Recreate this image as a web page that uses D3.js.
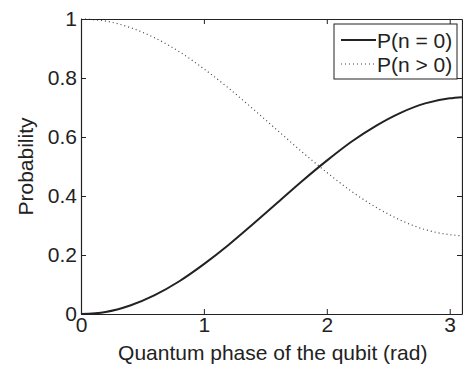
<!DOCTYPE html>
<html>
<head>
<meta charset="utf-8">
<script src="https://cdn.jsdelivr.net/npm/d3@7"></script>
<style>
  body { margin: 0; background: #fff; }
  svg { display: block; font-family: "Liberation Sans", Arial, sans-serif; }
</style>
</head>
<body>
<svg id="chart" width="463" height="365"></svg>
<script>
// values
const phase = [0, 0.2, 0.4, 0.6, 0.8, 1.0, 1.2, 1.4, 1.6, 1.8, 2.0, 2.2, 2.4, 2.6, 2.8, 3.0, 3.1];
const pZero = [0, 0.007, 0.029, 0.064, 0.111, 0.169, 0.234, 0.305, 0.378, 0.451, 0.52, 0.584, 0.638, 0.682, 0.714, 0.731, 0.735];
const pMore = [1, 0.993, 0.971, 0.936, 0.889, 0.831, 0.766, 0.695, 0.622, 0.549, 0.48, 0.416, 0.362, 0.318, 0.286, 0.269, 0.265];
const xTicks = [0, 1, 2, 3];
const yTicks = [0, 0.2, 0.4, 0.6, 0.8, 1];
const seriesNames = ['P(n = 0)', 'P(n > 0)'];

const margin = { top: 19, right: 1, bottom: 51, left: 81 };
const svg = d3.select('#chart');
const width = +svg.attr('width');
const height = +svg.attr('height');
const innerW = width - margin.left - margin.right;
const innerH = height - margin.top - margin.bottom;
const ink = '#222';
const fontSize = '21px';

const x = d3.scaleLinear().domain([0, 3.1]).range([margin.left, margin.left + innerW]);
const y = d3.scaleLinear().domain([0, 1]).range([margin.top + innerH, margin.top]);

const g = svg.append('g');

// curves
const line = (vals) => d3.line()
  .x((d, i) => x(phase[i]))
  .y((d) => y(d))
  .curve(d3.curveMonotoneX)(vals);

g.append('path')
  .attr('d', line(pMore))
  .attr('fill', 'none')
  .attr('stroke', '#444')
  .attr('stroke-width', 1.2)
  .attr('stroke-dasharray', '1,3');

g.append('path')
  .attr('d', line(pZero))
  .attr('fill', 'none')
  .attr('stroke', ink)
  .attr('stroke-width', 2);

// axes, ticks inward on all sides
const tickLen = 5;
const axBottom = g.append('g').attr('transform', `translate(0,${y(0)})`)
  .call(d3.axisBottom(x).tickValues(xTicks).tickFormat(d3.format('d')).tickSizeInner(-tickLen).tickSizeOuter(0).tickPadding(3));
const axTop = g.append('g').attr('transform', `translate(0,${y(1)})`)
  .call(d3.axisTop(x).tickValues(xTicks).tickFormat('').tickSizeInner(-tickLen).tickSizeOuter(0));
const axLeft = g.append('g').attr('transform', `translate(${x(0)},0)`)
  .call(d3.axisLeft(y).tickValues(yTicks).tickFormat((d) => (d === 0 || d === 1 ? d3.format('d')(d) : d3.format('.1f')(d))).tickSizeInner(-tickLen).tickSizeOuter(0).tickPadding(4));
const axRight = g.append('g').attr('transform', `translate(${x(3.1)},0)`)
  .call(d3.axisRight(y).tickValues(yTicks).tickFormat('').tickSizeInner(-tickLen).tickSizeOuter(0));

[axBottom, axTop, axLeft, axRight].forEach((a) => {
  a.select('.domain').attr('stroke', ink).attr('stroke-width', 1.2);
  a.selectAll('.tick line').attr('stroke', ink);
  a.selectAll('text').attr('fill', ink).style('font-size', fontSize).style('font-family', '"Liberation Sans", Arial, sans-serif');
});
axBottom.selectAll('text').attr('dy', '0.71em');

// axis labels
svg.append('text')
  .attr('x', x(1.56))
  .attr('y', 360)
  .attr('text-anchor', 'middle')
  .attr('fill', ink)
  .style('font-size', fontSize)
  .text('Quantum phase of the qubit (rad)');

svg.append('text')
  .attr('transform', `translate(33,${y(0.5)}) rotate(-90)`)
  .attr('text-anchor', 'middle')
  .attr('fill', ink)
  .style('font-size', fontSize)
  .text('Probability');

// legend
const legend = svg.append('g').attr('transform', 'translate(334,24)');
legend.append('rect')
  .attr('width', 123).attr('height', 55)
  .attr('fill', '#fff').attr('stroke', ink).attr('stroke-width', 1);
seriesNames.forEach((name, i) => {
  const row = legend.append('g').attr('transform', `translate(0,${16 + i * 24})`);
  row.append('line')
    .attr('x1', 7).attr('x2', 42).attr('y1', 0).attr('y2', 0)
    .attr('stroke', i === 0 ? ink : '#444')
    .attr('stroke-width', i === 0 ? 2 : 1.2)
    .attr('stroke-dasharray', i === 0 ? null : '1,3');
  row.append('text')
    .attr('x', 43).attr('y', 0).attr('dy', '0.36em')
    .attr('fill', ink)
    .style('font-size', fontSize)
    .text(name);
});
</script>
</body>
</html>
